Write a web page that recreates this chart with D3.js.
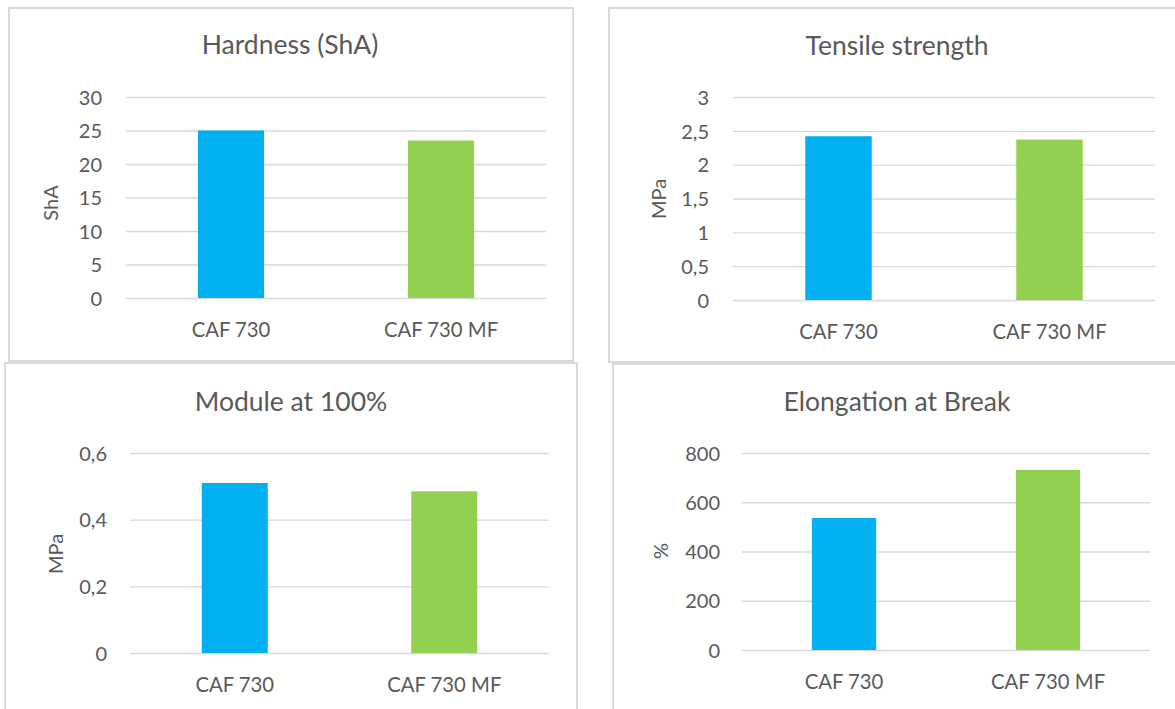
<!DOCTYPE html>
<html>
<head>
<meta charset="utf-8">
<script src="https://cdn.jsdelivr.net/npm/d3@7"></script>
<style>
  html, body { margin: 0; padding: 0; background: #ffffff; }
  svg { display: block; }
  text { font-family: Lato, "Open Sans", sans-serif; fill: #595959; }
</style>
</head>
<body>
<svg id="chart" width="1175" height="709"></svg>
<script>
// Compound test results: two formulations, four properties
const categories = ["CAF 730", "CAF 730 MF"];
const barColors = ["#00b0f0", "#92d050"];

const hardnessValues = [25, 23.5];
const tensileValues = [2.42, 2.37];
const modulusValues = [0.51, 0.485];
const elongationValues = [536, 731];

const hardnessTicks = [0, 5, 10, 15, 20, 25, 30];
const tensileTicks = [0, 0.5, 1, 1.5, 2, 2.5, 3];
const modulusTicks = [0, 0.2, 0.4, 0.6];
const elongationTicks = [0, 200, 400, 600, 800];

const titles = ["Hardness (ShA)", "Tensile strength", "Module at 100%", "Elongation at Break"];
const unitLabels = ["ShA", "MPa", "MPa", "%"];

// Page layout for each of the four chart boxes
const layout = [
  { box: [9, 8, 573, 361],   plot: [126, 546, 97, 298],  titleX: 290, titleY: 54,  unitX: 58,  unitY: 203, labelPad: 24 },
  { box: [609, 8, 1185, 362], plot: [733, 1155, 97, 300], titleX: 897, titleY: 55,  unitX: 666, unitY: 199, labelPad: 24 },
  { box: [5, 363, 577, 720], plot: [130, 549, 453, 653], titleX: 291, titleY: 411, unitX: 63,  unitY: 554, labelPad: 23 },
  { box: [613, 364, 1185, 720], plot: [742, 1150, 453, 650], titleX: 897, titleY: 411, unitX: 668, unitY: 551, labelPad: 22 }
];

const seriesValues = [hardnessValues, tensileValues, modulusValues, elongationValues];
const seriesTicks = [hardnessTicks, tensileTicks, modulusTicks, elongationTicks];

const commaFormat = d => String(d).replace(".", ",");

const svg = d3.select("#chart");
svg.append("rect").attr("width", 1175).attr("height", 709).attr("fill", "#ffffff");

layout.forEach((L, i) => {
  const values = seriesValues[i];
  const ticks = seriesTicks[i];
  const [bx0, by0, bx1, by1] = L.box;
  const [px0, px1, py0, py1] = L.plot;

  const g = svg.append("g");

  // chart box
  g.append("rect")
    .attr("x", bx0).attr("y", by0)
    .attr("width", bx1 - bx0).attr("height", by1 - by0)
    .attr("fill", "#ffffff")
    .attr("stroke", "#d9d9d9")
    .attr("stroke-width", 2);

  const x = d3.scaleBand()
    .domain(categories)
    .range([px0, px1])
    .paddingInner(0.685)
    .paddingOuter(0.3425);

  const y = d3.scaleLinear()
    .domain([0, d3.max(ticks)])
    .range([py1, py0]);

  // value axis with gridlines
  const yAxis = d3.axisLeft(y)
    .tickValues(ticks)
    .tickFormat(commaFormat)
    .tickSize(-(px1 - px0))
    .tickPadding(L.labelPad);

  const ya = g.append("g")
    .attr("transform", `translate(${px0},0)`)
    .call(yAxis);
  ya.select(".domain").remove();
  ya.selectAll(".tick line")
    .attr("stroke", "#d9d9d9")
    .attr("stroke-width", 1.4);
  ya.selectAll(".tick text")
    .attr("fill", "#595959")
    .attr("dy", "0.36em")
    .style("font-size", "20px");

  // bars
  g.selectAll("rect.bar")
    .data(values)
    .join("rect")
    .attr("class", "bar")
    .attr("x", (d, j) => x(categories[j]))
    .attr("width", x.bandwidth())
    .attr("y", d => y(d))
    .attr("height", d => y(0) - y(d))
    .attr("fill", (d, j) => barColors[j]);

  // category axis
  const xAxis = d3.axisBottom(x).tickSize(0);
  const xa = g.append("g")
    .attr("transform", `translate(0,${py1})`)
    .call(xAxis);
  xa.select(".domain").remove();
  xa.selectAll(".tick text")
    .attr("fill", "#595959")
    .attr("y", 39)
    .attr("dy", 0)
    .style("font-size", "20.3px");

  // chart title
  g.append("text")
    .attr("x", L.titleX)
    .attr("y", L.titleY)
    .attr("text-anchor", "middle")
    .style("font-size", "26.5px")
    .text(titles[i]);

  // unit label
  g.append("text")
    .attr("transform", `translate(${L.unitX},${L.unitY}) rotate(-90)`)
    .attr("text-anchor", "middle")
    .style("font-size", "20px")
    .text(unitLabels[i]);
});
</script>
</body>
</html>
